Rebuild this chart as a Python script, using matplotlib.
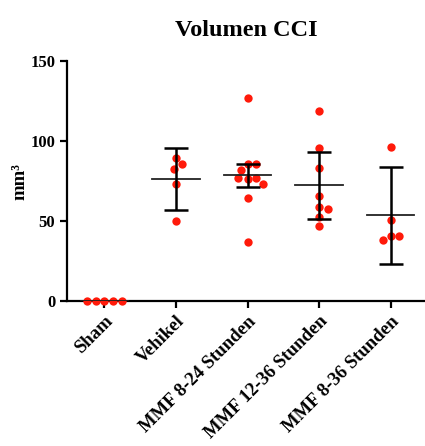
import numpy as np
import matplotlib
matplotlib.use('Agg')
import matplotlib.pyplot as plt

plt.rcParams['font.family'] = ['Liberation Serif', 'DejaVu Serif']
plt.rcParams['font.weight'] = 'bold'

# Gruppen und Einzelwerte (mm^3)
gruppen = ['Sham', 'Vehikel', 'MMF 8-24 Stunden', 'MMF 12-36 Stunden', 'MMF 8-36 Stunden']
sham = [0, 0, 0, 0, 0]
vehikel = [89.6, 85.6, 82.7, 73.1, 50.2]
mmf_8_24 = [127.1, 85.6, 85.6, 82.0, 76.2, 76.7, 76.9, 72.9, 64.2, 36.9]
mmf_12_36 = [118.8, 95.4, 83.3, 65.6, 58.5, 57.5, 52.7, 47.1]
mmf_8_36 = [96.0, 50.4, 40.8, 40.8, 38.1]
werte = [sham, vehikel, mmf_8_24, mmf_12_36, mmf_8_36]

# Mittelwert und Fehlerbalken wie im Bild
mittel = [0, 76.2, 78.5, 72.3, 53.5]
fehler = [0, 19.5, 7.0, 20.7, 30.1]

fig = plt.figure(figsize=(4.25, 4.46), dpi=100)
ax = fig.add_axes([0.158, 0.325, 0.842, 0.538])
ax.set_xlim(-0.52, 4.48)
ax.set_ylim(0, 150)

# px pro Einheit, fuer die Beeswarm-Anordnung
sx = 0.842 * 425 / 5.0
sy = 0.538 * 446 / 150.0
D = 8.8


def swarm(vals):
    placed = []
    offs = []
    for v in vals:
        y = v * sy
        cands = [0.0]
        for px, py in placed:
            dy = abs(py - y)
            if dy < D:
                dx = np.sqrt(D ** 2 - dy ** 2)
                cands += [px + dx, px - dx]
        cands.sort(key=lambda c: (round(abs(c), 6), -c))
        for c in cands:
            if all(np.hypot(c - px, y - py) >= D - 1e-6 for px, py in placed):
                break
        placed.append((c, y))
        offs.append(c / sx)
    return np.array(offs)


for i, vals in enumerate(werte):
    xs = i + swarm(vals)
    ax.plot(xs, vals, 'o', color='#ff1a0a', ms=6, mec='none', zorder=3, clip_on=False)
    ax.plot([i - 0.33, i + 0.33], [mittel[i], mittel[i]], color='#222222', lw=1.3, zorder=4)
    if fehler[i] > 0:
        ax.errorbar(i, mittel[i], yerr=fehler[i], fmt='none', ecolor='black',
                    elinewidth=1.8, capsize=8.5, capthick=1.8, zorder=4)

for s in ['top', 'right']:
    ax.spines[s].set_visible(False)
for s in ['left', 'bottom']:
    ax.spines[s].set_linewidth(1.6)

ax.set_yticks([0, 50, 100, 150])
ax.set_xticks(range(len(gruppen)))
ax.set_xticklabels(gruppen, rotation=45, ha='right', rotation_mode='anchor', fontsize=13.5)
ax.tick_params(axis='both', width=1.6, length=5, direction='out')
ax.tick_params(axis='y', labelsize=12)
ax.set_ylabel('mm³', fontsize=13.5, fontweight='bold', labelpad=1)
ax.set_title('Volumen CCI', fontsize=17.5, fontweight='bold', pad=18)

fig.savefig('out.png', dpi=100)
